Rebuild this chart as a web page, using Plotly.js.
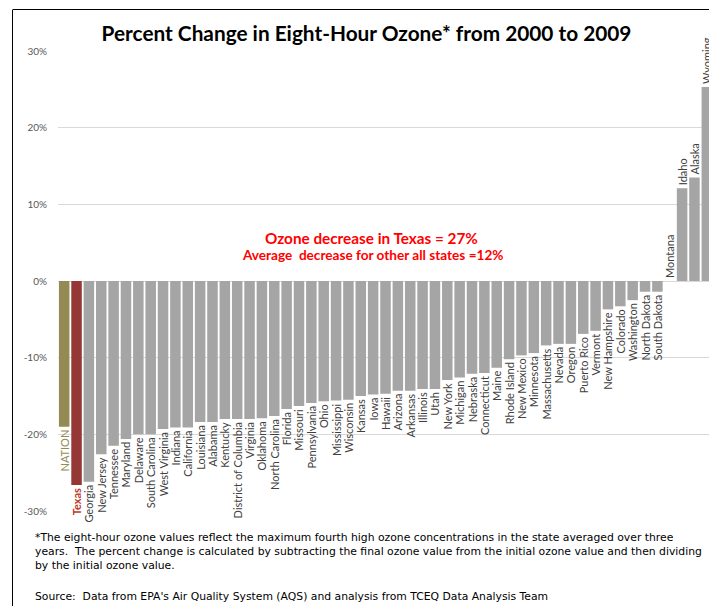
<!DOCTYPE html>
<html>
<head>
<meta charset="utf-8">
<script src="https://cdn.plot.ly/plotly-3.0.1.min.js"></script>
<style>
html,body{margin:0;padding:0;overflow:hidden;background:#fff;}
#chart{width:716px;height:606px;}
</style>
</head>
<body>
<div id="chart"></div>
<script>
const states = ["NATION","Texas","Georgia","New Jersey","Tennessee","Maryland","Delaware","South Carolina","West Virginia","Indiana","California","Louisiana","Alabama","Kentucky","District of Columbia","Virginia","Oklahoma","North Carolina","Florida","Missouri","Pennsylvania","Ohio","Mississippi","Wisconsin","Kansas","Iowa","Hawaii","Arizona","Arkansas","Illinois","Utah","New York","Michigan","Nebraska","Connecticut","Maine","Rhode Island","New Mexico","Minnesota","Massachusetts","Nevada","Oregon","Puerto Rico","Vermont","New Hampshire","Colorado","Washington","North Dakota","South Dakota","Montana","Idaho","Alaska","Wyoming"];
const pctChange = [-19.0,-26.6,-26.2,-22.6,-21.5,-20.6,-20.0,-20.0,-19.3,-19.1,-19.1,-18.4,-18.4,-18.0,-18.0,-18.0,-17.9,-17.6,-16.7,-16.3,-15.9,-15.7,-15.6,-15.5,-15.0,-14.8,-14.7,-14.3,-14.3,-14.1,-14.1,-12.9,-12.6,-12.1,-12.0,-11.3,-10.2,-9.7,-9.4,-8.4,-8.2,-8.2,-6.9,-6.5,-3.7,-3.3,-2.5,-1.4,-1.4,0,12.1,13.5,25.3];
const yTicks = [-30,-20,-10,0,10,20,30];
const yTickLabels = ["-30%","-20%","-10%","0%","10%","20%","30%"];
const titleText = "Percent Change in Eight-Hour Ozone* from 2000 to 2009";
const noteLine1 = "Ozone decrease in Texas = 27%";
const noteLine2 = "Average  decrease for other all states =12%";
const footnote = "*The eight-hour ozone values reflect the maximum fourth high ozone concentrations in the state averaged over three<br>years.  The percent change is calculated by subtracting the final ozone value from the initial ozone value and then dividing<br>by the initial ozone value.";
const sourceNote = "Source:  Data from EPA's Air Quality System (AQS) and analysis from TCEQ Data Analysis Team";

const barColors = states.map(s => s === "NATION" ? "#948A54" : (s === "Texas" ? "#953735" : "#A5A5A5"));
const textColors = states.map(s => s === "NATION" ? "#948A54" : (s === "Texas" ? "#C0392B" : "#404040"));
const texts = states.map(s => s === "Texas" ? "<b>Texas</b>" : s);

const trace = {
  type: "bar",
  x: states,
  y: pctChange,
  marker: {color: barColors, line: {width: 0}},
  text: texts,
  textposition: "outside",
  textangle: -90,
  constraintext: "none",
  cliponaxis: false,
  textfont: {family: "Lato, 'Open Sans', sans-serif", size: 11, color: textColors},
  hoverinfo: "x+y"
};

const layout = {
  width: 716, height: 606,
  margin: {l: 58, r: 3, t: 51, b: 95},
  paper_bgcolor: "#ffffff", plot_bgcolor: "#ffffff",
  showlegend: false,
  bargap: 0.15,
  title: {text: "<b>" + titleText + "</b>", x: 366.5/716, xanchor: "center", y: 0.945, yanchor: "middle", yref: "container",
    font: {family: "Lato, 'Open Sans', sans-serif", size: 20.8, color: "#000000"}},
  xaxis: {showticklabels: false, showgrid: false, zeroline: false, showline: false, ticks: "", range: [-0.5, 52.5], fixedrange: true},
  yaxis: {range: [-30, 30], tickvals: yTicks, ticktext: yTickLabels, showgrid: true, gridcolor: "#D9D9D9", gridwidth: 1,
    zeroline: false, showline: false, ticks: "", ticklabelstandoff: 10,
    tickfont: {family: "Lato, 'Open Sans', sans-serif", size: 10, color: "#595959"}},
  shapes: [
    {type: "line", xref: "paper", yref: "paper", x0: (12.5-58)/655, x1: (12.5-58)/655, y0: 1 + 41/460, y1: -0.3, line: {color: "#000", width: 1}},
    {type: "line", xref: "paper", yref: "paper", x0: (12.5-58)/655, x1: 1.1, y0: 1 + 41.5/460, y1: 1 + 41.5/460, line: {color: "#000", width: 1}}
  ],
  annotations: [
    {text: "<b>" + noteLine1 + "</b>", xref: "paper", yref: "paper", x: (371.5-58)/655, y: 1 - (237.5-51)/460, xanchor: "center", yanchor: "middle", showarrow: false,
      font: {family: "Lato, 'Open Sans', sans-serif", size: 15.3, color: "#FF0000"}},
    {text: "<b>" + noteLine2 + "</b>", xref: "paper", yref: "paper", x: (372-58)/655, y: 1 - (255-51)/460, xanchor: "center", yanchor: "middle", showarrow: false,
      font: {family: "Lato, 'Open Sans', sans-serif", size: 13.6, color: "#FF0000"}},
    {text: footnote, xref: "paper", yref: "paper", x: (33-58)/655, y: 1 - (529-51)/460, xanchor: "left", yanchor: "top", align: "left", showarrow: false,
      font: {family: "'DejaVu Sans', sans-serif", size: 10.8, color: "#000000"}},
    {text: sourceNote, xref: "paper", yref: "paper", x: (33-58)/655, y: 1 - (596-51)/460, xanchor: "left", yanchor: "middle", align: "left", showarrow: false,
      font: {family: "'DejaVu Sans', sans-serif", size: 10.8, color: "#000000"}}
  ]
};

Plotly.newPlot("chart", [trace], layout, {displayModeBar: false, staticPlot: true});
</script>
</body>
</html>
